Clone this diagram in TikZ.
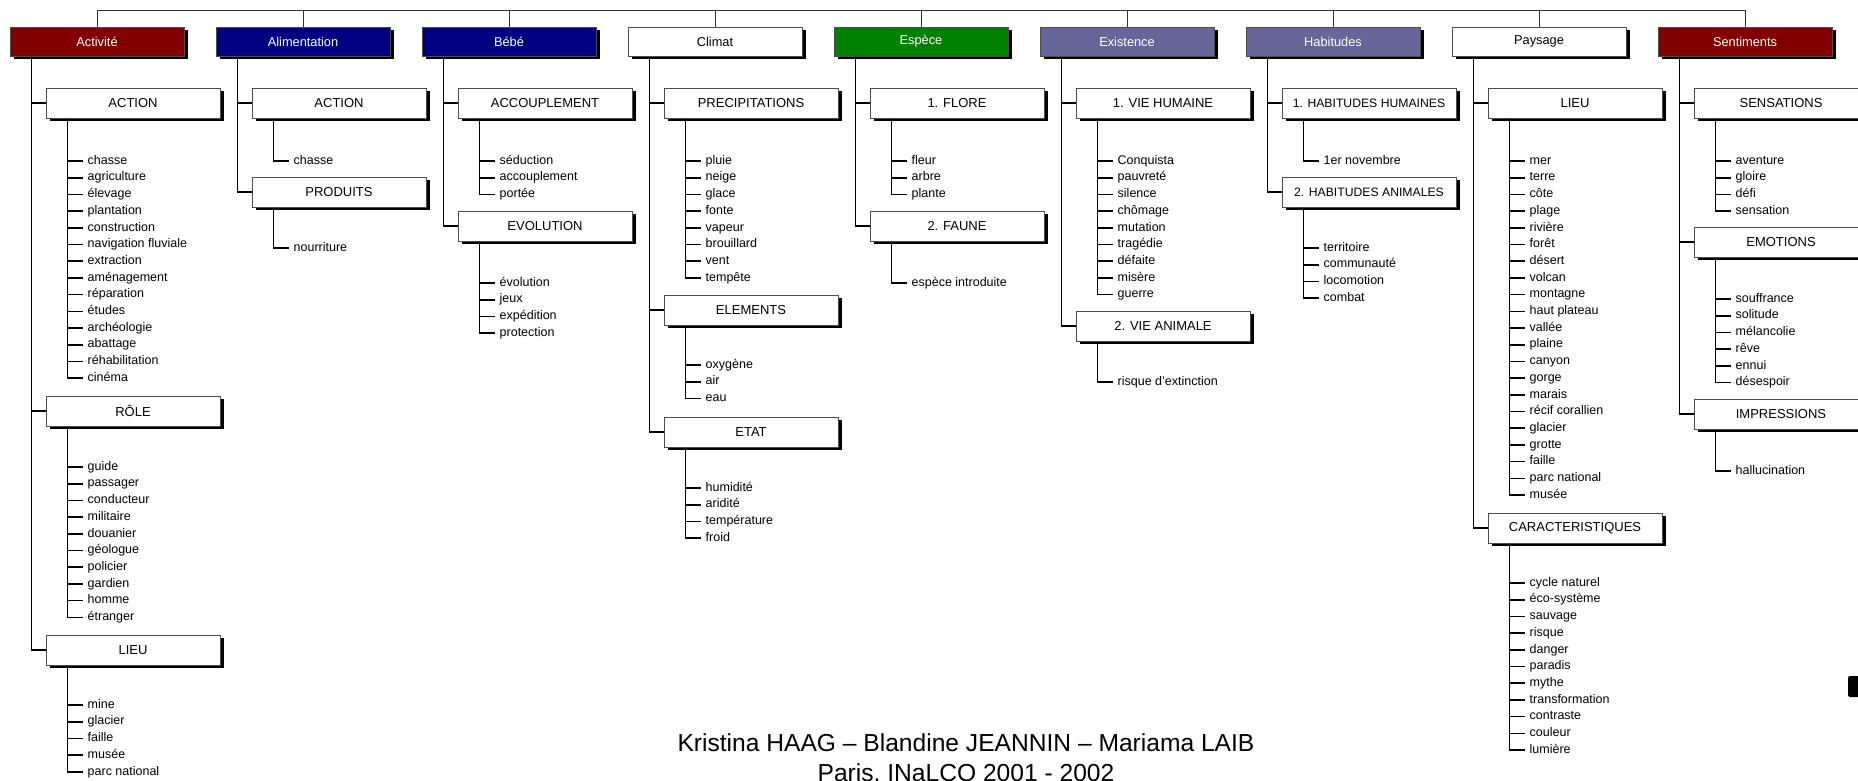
\documentclass[tikz,border=0pt]{standalone}
\usepackage{fontspec}
\setmainfont{Liberation Sans}
\usetikzlibrary{shadows}

\begin{document}
\begin{tikzpicture}[x=1pt,y=-1pt]

\newcommand{\leaves}[4]{%
  \foreach \t [count=\k from 0] in {#4} {
    \node[leaf] (#1-\k) at (#2,#3+\k*16.7) {\t};
    \draw[twig] ([xshift=22pt]#1.south west) |- (#1-\k.west);
  }}

  \definecolor{redcol}{HTML}{800000}
  \definecolor{bluecol}{HTML}{000080}
  \definecolor{greencol}{HTML}{008000}
  \definecolor{mauvecol}{HTML}{666699}

 \tikzset{
      topbox/.style={draw=black!70,line width=1pt,minimum width=174pt,
        minimum height=29pt,inner sep=0pt,font=\fontsize{12.8}{14}\selectfont,
        drop shadow={shadow xshift=4pt,shadow yshift=-3pt,opacity=1,fill=black}},
      subbox/.style={topbox,fill=white,minimum height=30pt,
        font=\fontsize{13}{15}\selectfont},
      leaf/.style={anchor=west,inner xsep=4.5pt,inner ysep=0pt,
        text height=9pt,text depth=2.5pt,
        font=\fontsize{12.5}{14}\selectfont},
      trunk/.style={line width=1.6pt},
      twig/.style={line width=1.6pt},
      stem/.style={line width=1pt,draw=black!80},
      credit/.style={anchor=base,font=\fontsize{24.6}{30}\selectfont},
    }

 \useasboundingbox (0,0) rectangle (1858,780);
 \clip (0,0) rectangle (1858,780);

 \coordinate (top) at (0,10);

% top row
 \node[topbox,fill=redcol,text=white] (act) at (97,41.5) {Activité};
 \node[topbox,fill=bluecol,text=white] (ali) at (303,41.5) {Alimentation};
 \node[topbox,fill=bluecol,text=white] (beb) at (509,41.5) {Bébé};
 \node[topbox,fill=white] (cli) at (715,41.5) {Climat};
 \node[topbox,fill=greencol,text=white] (esp) at (921,41.5) {Espèce};
 \node[topbox,fill=mauvecol,text=white] (exi) at (1127,41.5) {Existence};
 \node[topbox,fill=mauvecol,text=white] (hab) at (1333,41.5) {Habitudes};
 \node[topbox,fill=white] (pay) at (1539,41.5) {Paysage};
 \node[topbox,fill=redcol,text=white] (sen) at (1745,41.5) {Sentiments};

 \draw[stem] (act.north) -- (act.north |- top) -- (sen.north |- top) -- (sen.north);
 \foreach \n in {ali,beb,cli,esp,exi,hab,pay}
   \draw[stem] (\n.north) -- (\n.north |- top);

% Activite
 \node[subbox] (act1) at (133,103) {ACTION};
 \node[subbox] (act2) at (133,411) {RÔLE};
 \node[subbox] (act3) at (133,650) {LIEU};
 \foreach \s in {act1,act2,act3}
   \draw[trunk] ([xshift=22pt]act.south west) |- (\s.west);
 \leaves{act1}{83}{161}{chasse,agriculture,élevage,plantation,construction,
   navigation fluviale,extraction,aménagement,réparation,études,archéologie,
   abattage,réhabilitation,cinéma}
 \leaves{act2}{83}{467}{guide,passager,conducteur,militaire,douanier,géologue,
   policier,gardien,homme,étranger}
 \leaves{act3}{83}{705}{mine,glacier,faille,musée,parc national}

% Alimentation
 \node[subbox] (ali1) at (339,103) {ACTION};
 \node[subbox] (ali2) at (339,192) {PRODUITS};
 \foreach \s in {ali1,ali2}
   \draw[trunk] ([xshift=22pt]ali.south west) |- (\s.west);
 \leaves{ali1}{289}{161}{chasse}
 \leaves{ali2}{289}{248}{nourriture}

% Bebe
 \node[subbox] (beb1) at (545,103) {ACCOUPLEMENT};
 \node[subbox] (beb2) at (545,226) {EVOLUTION};
 \foreach \s in {beb1,beb2}
   \draw[trunk] ([xshift=22pt]beb.south west) |- (\s.west);
 \leaves{beb1}{495}{161}{séduction,accouplement,portée}
 \leaves{beb2}{495}{283}{évolution,jeux,expédition,protection}

% Climat
 \node[subbox] (cli1) at (751,103) {PRECIPITATIONS};
 \node[subbox] (cli2) at (751,310) {ELEMENTS};
 \node[subbox] (cli3) at (751,432) {ETAT};
 \foreach \s in {cli1,cli2,cli3}
   \draw[trunk] ([xshift=22pt]cli.south west) |- (\s.west);
 \leaves{cli1}{701}{161}{pluie,neige,glace,fonte,vapeur,brouillard,vent,tempête}
 \leaves{cli2}{701}{365}{oxygène,air,eau}
 \leaves{cli3}{701}{488}{humidité,aridité,température,froid}

% Espece
 \node[subbox] (esp1) at (957,103) {1. FLORE};
 \node[subbox] (esp2) at (957,226) {2. FAUNE};
 \foreach \s in {esp1,esp2}
   \draw[trunk] ([xshift=22pt]esp.south west) |- (\s.west);
 \leaves{esp1}{907}{161}{fleur,arbre,plante}
 \leaves{esp2}{907}{283}{espèce introduite}

% Existence
 \node[subbox] (exi1) at (1163,103) {1. VIE HUMAINE};
 \node[subbox] (exi2) at (1163,326) {2. VIE ANIMALE};
 \foreach \s in {exi1,exi2}
   \draw[trunk] ([xshift=22pt]exi.south west) |- (\s.west);
 \leaves{exi1}{1113}{161}{Conquista,pauvreté,silence,chômage,mutation,tragédie,
   défaite,misère,guerre}
 \leaves{exi2}{1113}{382}{risque d'extinction}

% Habitudes
 \node[subbox,font=\fontsize{12.2}{14}\selectfont] (hab1) at (1369,103) {1. HABITUDES HUMAINES};
 \node[subbox,font=\fontsize{12.2}{14}\selectfont] (hab2) at (1369,192) {2. HABITUDES ANIMALES};
 \foreach \s in {hab1,hab2}
   \draw[trunk] ([xshift=22pt]hab.south west) |- (\s.west);
 \leaves{hab1}{1319}{161}{1er novembre}
 \leaves{hab2}{1319}{248}{territoire,communauté,locomotion,combat}

% Paysage
 \node[subbox] (pay1) at (1575,103) {LIEU};
 \node[subbox] (pay2) at (1575,528) {CARACTERISTIQUES};
 \foreach \s in {pay1,pay2}
   \draw[trunk] ([xshift=22pt]pay.south west) |- (\s.west);
 \leaves{pay1}{1525}{161}{mer,terre,côte,plage,rivière,forêt,désert,volcan,
   montagne,haut plateau,vallée,plaine,canyon,gorge,marais,récif corallien,
   glacier,grotte,faille,parc national,musée}
 \leaves{pay2}{1525}{583}{cycle naturel,éco-système,sauvage,risque,danger,
   paradis,mythe,transformation,contraste,couleur,lumière}

% Sentiments
 \node[subbox] (sen1) at (1781,103) {SENSATIONS};
 \node[subbox] (sen2) at (1781,242) {EMOTIONS};
 \node[subbox] (sen3) at (1781,414) {IMPRESSIONS};
 \foreach \s in {sen1,sen2,sen3}
   \draw[trunk] ([xshift=22pt]sen.south west) |- (\s.west);
 \leaves{sen1}{1731}{161}{aventure,gloire,défi,sensation}
 \leaves{sen2}{1731}{299}{souffrance,solitude,mélancolie,rêve,ennui,désespoir}
 \leaves{sen3}{1731}{471}{hallucination}

% footer
 \node[credit] (auth) at (966,751)
   {Kristina HAAG – Blandine JEANNIN – Mariama LAIB};
 \node[credit] (place) at (966,781)
   {Paris, INaLCO 2001 - 2002};

 \fill[rounded corners=2pt] (1848,676) rectangle (1864,697);
\end{tikzpicture}
\end{document}
